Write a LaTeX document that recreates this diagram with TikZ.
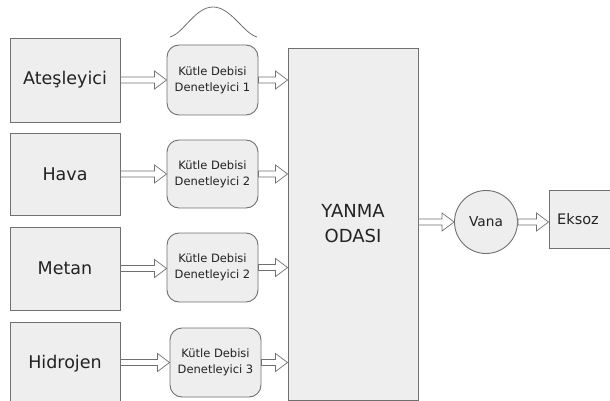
\documentclass[tikz,border=0pt]{standalone}
\usepackage{fontspec}
\setmainfont{DejaVu Sans}
\usetikzlibrary{calc}
\definecolor{boxfill}{HTML}{EEEEEE}
\definecolor{boxline}{HTML}{707070}
\definecolor{txt}{HTML}{222222}
\tikzset{
  srcbox/.style={draw=boxline, fill=boxfill, line width=0.9pt, minimum width=110pt, text=txt, font=\fontsize{17.5}{20}\selectfont, inner sep=0pt},
  ctrl/.style={draw=boxline, fill=boxfill, line width=0.9pt, rounded corners=12pt, minimum width=91pt, minimum height=69pt, text=txt, align=center, font=\fontsize{11.5}{16}\selectfont, inner sep=0pt},
  arr/.style={draw=boxline, fill=white, line width=0.7pt, line join=miter},
}
\newcommand{\harrow}[2]{%
  \draw[arr] let \p1=#1, \p2=#2 in
    (\x1,\y1+3pt) -- (\x2-12pt,\y1+3pt) -- (\x2-12pt,\y1+9pt) -- (\x2,\y1)
    -- (\x2-12pt,\y1-9pt) -- (\x2-12pt,\y1-3pt) -- (\x1,\y1-3pt) -- cycle;}
\begin{document}
\begin{tikzpicture}[x=1pt,y=-1pt]
\useasboundingbox (0,0) rectangle (610,401);
% sources
\node[srcbox, minimum height=84pt] (ates) at (65,80) {Ateşleyici};
\node[srcbox, minimum height=82pt] (hava) at (65,174) {Hava};
\node[srcbox, minimum height=83pt] (metan) at (65,268.5) {Metan};
\node[srcbox, minimum height=84pt] (hidro) at (65,364) {Hidrojen};
% controllers
\node[ctrl, minimum height=70pt] (c1) at (212.5,80) {Kütle Debisi\\Denetleyici 1};
\node[ctrl, minimum height=68pt] (c2) at (212.5,174) {Kütle Debisi\\Denetleyici 2};
\node[ctrl] (c3) at (212.5,267.5) {Kütle Debisi\\Denetleyici 2};
\node[ctrl] (c4) at (215.5,362.5) {Kütle Debisi\\Denetleyici 3};
% chamber
\node[draw=boxline, fill=boxfill, line width=0.9pt, minimum width=130pt, minimum height=352pt, text=txt, align=center, font=\fontsize{18}{25}\selectfont, inner sep=0pt] (yanma) at (353,224) {YANMA\\ODASI};
% valve and exhaust
\node[circle, draw=boxline, fill=boxfill, line width=0.9pt, minimum size=63pt, inner sep=0pt, text=txt, font=\fontsize{13.7}{16}\selectfont] (vana) at (486,222) {Vana};
\node[draw=boxline, fill=boxfill, line width=0.9pt, minimum width=63pt, minimum height=58pt, inner sep=0pt, text=txt, font=\fontsize{14.5}{16}\selectfont] (eksoz) at (580.5,219) {\hspace*{-5pt}Eksoz};
% bell curve
\coordinate (bl) at (170,37);
\coordinate (bt) at (213,7);
\coordinate (br) at (257,37);
\draw[boxline, line width=0.8pt] (bl) .. controls (184,33) and (195,7) .. (bt) .. controls (231,7) and (243,33) .. (br);
% arrows
\harrow{(ates.east)}{(c1.west)}
\harrow{(hava.east)}{(c2.west)}
\harrow{(metan.east)}{(c3.west)}
\harrow{(hidro.east |- c4.west)}{(c4.west)}
\harrow{(c1.east)}{(c1.east -| yanma.west)}
\harrow{(c2.east)}{(c2.east -| yanma.west)}
\harrow{(c3.east)}{(c3.east -| yanma.west)}
\harrow{(c4.east)}{(c4.east -| yanma.west)}
\harrow{(yanma.east |- vana.west)}{(vana.west)}
\harrow{(vana.east)}{(vana.east -| eksoz.west)}
\end{tikzpicture}
\end{document}
